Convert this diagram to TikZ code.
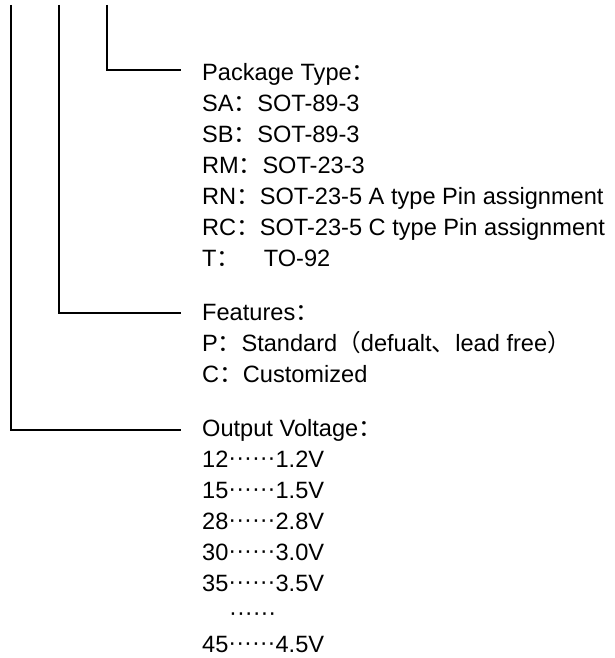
\documentclass[tikz,border=0pt]{standalone}
\usepackage{fontspec}
\setmainfont{Liberation Sans}
\newfontfamily\cjk{Noto Sans CJK SC}
\newcommand{\zc}{{\cjk ：}}
\newcommand{\zdots}{\raisebox{1.5pt}{······}}
\begin{document}
\begin{tikzpicture}[x=1pt,y=-1pt,
  txt/.style={anchor=base west, inner sep=0pt, font=\fontsize{23.6}{28}\selectfont},
  conn/.style={line width=1.6pt}]
\useasboundingbox (0,0) rectangle (615,658);
% connectors
\coordinate (top3) at (107,5);
\coordinate (top2) at (59,5);
\coordinate (top1) at (11,5);
\coordinate (end3) at (181,70);
\coordinate (end2) at (181,313);
\coordinate (end1) at (181,430);
\draw[conn] (top3) |- (end3);
\draw[conn] (top2) |- (end2);
\draw[conn] (top1) |- (end1);
% package type
\node[txt] (pk) at (202,80.5) {Package Type\zc};
\node[txt] (sa) at (202,111.5) {SA\zc SOT-89-3};
\node[txt] (sb) at (202,142.3) {SB\zc SOT-89-3};
\node[txt] (rm) at (202,173.2) {RM\zc SOT-23-3};
\node[txt] (rn) at (202,204.2) {RN\zc SOT-23-5 A type Pin assignment};
\node[txt] (rc) at (202,235) {RC\zc SOT-23-5 C type Pin assignment};
\node[txt] (t) at (202,266) {T\zc\hspace{1em}TO-92};
% features
\node[txt] (feat) at (202,320.7) {Features\zc};
\node[txt] (p) at (202,351.7) {P\zc Standard{\cjk （}defualt{\cjk 、}lead free{\cjk ）}};
\node[txt] (c) at (202,382.7) {C\zc Customized};
% output voltage
\node[txt] (ov) at (202,436) {Output Voltage\zc};
\node[txt] (v12) at (202,467.3) {12\zdots1.2V};
\node[txt] (v15) at (202,498.3) {15\zdots1.5V};
\node[txt] (v28) at (202,529.3) {28\zdots2.8V};
\node[txt] (v30) at (202,560.3) {30\zdots3.0V};
\node[txt] (v35) at (202,591.2) {35\zdots3.5V};
\node[txt] (vd) at (229,621.8) {\zdots};
\node[txt] (v45) at (202,652) {45\zdots4.5V};
\end{tikzpicture}
\end{document}
